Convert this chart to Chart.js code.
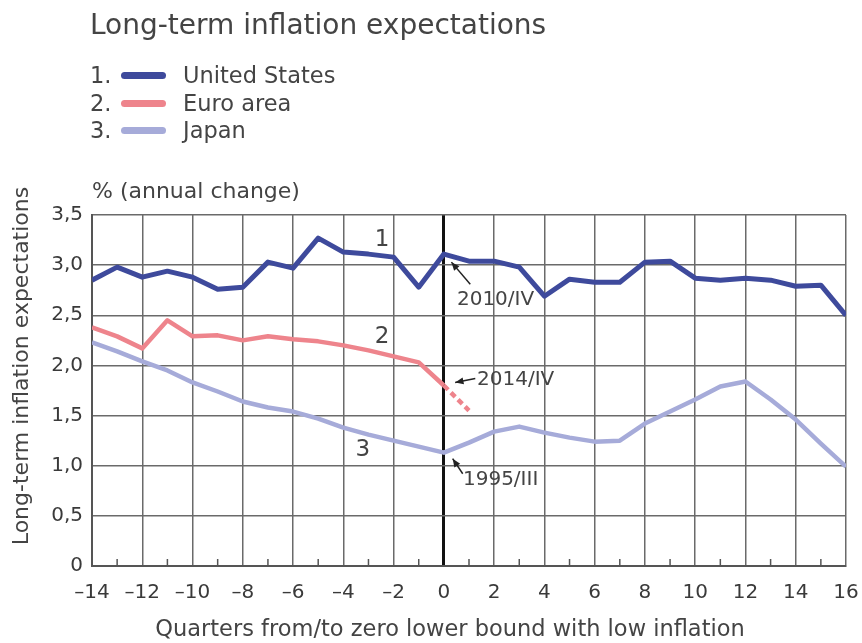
<!DOCTYPE html>
<html>
<head>
<meta charset="utf-8">
<script src="https://cdn.jsdelivr.net/npm/chart.js@4"></script>
<style>
  html, body { margin: 0; padding: 0; background: #fff; }
  body { width: 862px; height: 643px; position: relative; overflow: hidden; font-family: 'DejaVu Sans', sans-serif; color: #444; }
  #wrap { position: absolute; left: 0; top: 0; width: 862px; height: 643px; }
  .title { position: absolute; left: 90px; top: 7px; font-size: 28px; line-height: 36px; color: #444; white-space: nowrap; }
  .leg { position: absolute; left: 90px; font-size: 22.5px; color: #444; white-space: nowrap; height: 28px; line-height: 28px; }
  .leg .num { display: inline-block; width: 31px; }
  .leg .swatch { display: inline-block; width: 45px; height: 7px; border-radius: 4px; vertical-align: middle; margin-right: 17px; position: relative; top: -1px; }
</style>
</head>
<body>
<div id="wrap"><canvas id="chart" width="862" height="643"></canvas></div>
<div class="title">Long-term inflation expectations</div>
<div class="leg" style="top:61px"><span class="num">1.</span><span class="swatch" style="background:#3e4a9c"></span>United States</div>
<div class="leg" style="top:89px"><span class="num">2.</span><span class="swatch" style="background:#ee848c"></span>Euro area</div>
<div class="leg" style="top:116px"><span class="num">3.</span><span class="swatch" style="background:#a6abd9"></span>Japan</div>
<script>
// quarters from/to zero lower bound
const quarters = [-14, -13, -12, -11, -10, -9, -8, -7, -6, -5, -4, -3, -2, -1, 0, 1, 2, 3, 4, 5, 6, 7, 8, 9, 10, 11, 12, 13, 14, 15, 16];
const unitedStates = [2.85, 2.98, 2.88, 2.94, 2.88, 2.76, 2.78, 3.03, 2.97, 3.27, 3.13, 3.11, 3.08, 2.78, 3.11, 3.04, 3.04, 2.98, 2.69, 2.86, 2.83, 2.83, 3.03, 3.04, 2.87, 2.85, 2.87, 2.85, 2.79, 2.80, 2.50];
const euroArea = [2.38, 2.29, 2.17, 2.45, 2.29, 2.30, 2.25, 2.29, 2.26, 2.24, 2.20, 2.15, 2.09, 2.03, 1.80, 1.55];
const japan = [2.23, 2.14, 2.04, 1.95, 1.83, 1.74, 1.64, 1.58, 1.54, 1.47, 1.38, 1.31, 1.25, 1.19, 1.13, 1.23, 1.34, 1.39, 1.33, 1.28, 1.24, 1.25, 1.42, 1.54, 1.66, 1.79, 1.84, 1.66, 1.46, 1.22, 0.99];
const yTicks = [0, 0.5, 1, 1.5, 2, 2.5, 3, 3.5];

const FONT = "'DejaVu Sans', sans-serif";
const TEXT = '#444';

function toPoints(vals) {
  return vals.map((v, i) => ({ x: quarters[i], y: v }));
}

// ─── Extras: minor ticks, axis titles, labels, arrows ─────
const extras = {
  id: 'extras',
  afterDatasetsDraw(chart) {
    const { ctx, chartArea, scales: { x, y } } = chart;
    ctx.save();
    // minor ticks on odd quarters
    ctx.strokeStyle = '#555';
    ctx.lineWidth = 1.5;
    quarters.forEach(q => {
      if (q % 2 === 0) return;
      const px = x.getPixelForValue(q);
      ctx.beginPath();
      ctx.moveTo(px, chartArea.bottom);
      ctx.lineTo(px, chartArea.bottom - 7);
      ctx.stroke();
    });

    ctx.fillStyle = TEXT;
    ctx.textBaseline = 'middle';
    ctx.font = '22px ' + FONT;
    ctx.textAlign = 'left';
    ctx.fillText('% (annual change)', chartArea.left, chartArea.top - 23);

    // axis titles
    ctx.textAlign = 'center';
    ctx.font = '22.5px ' + FONT;
    ctx.fillText('Quarters from/to zero lower bound with low inflation', 450, 630);
    ctx.save();
    ctx.translate(22, 366);
    ctx.rotate(-Math.PI / 2);
    ctx.font = '22px ' + FONT;
    ctx.fillText('Long-term inflation expectations', 0, 0);
    ctx.restore();

    ctx.font = '23px ' + FONT;
    ctx.fillText('1', x.getPixelForValue(-2.46), y.getPixelForValue(3.25));
    ctx.fillText('2', x.getPixelForValue(-2.46), y.getPixelForValue(2.28));
    ctx.fillText('3', x.getPixelForValue(-3.22), y.getPixelForValue(1.155));

    ctx.font = '20px ' + FONT;
    ctx.textAlign = 'left';
    ctx.fillText('2010/IV', x.getPixelForValue(0.52), y.getPixelForValue(2.65));
    ctx.fillText('2014/IV', x.getPixelForValue(1.32), y.getPixelForValue(1.855));
    ctx.fillText('1995/III', x.getPixelForValue(0.76), y.getPixelForValue(0.857));

    const arrow = (x0, y0, x1, y1) => {
      const a = x.getPixelForValue(x0), b = y.getPixelForValue(y0);
      const c = x.getPixelForValue(x1), d = y.getPixelForValue(y1);
      const ang = Math.atan2(d - b, c - a);
      ctx.strokeStyle = '#222';
      ctx.fillStyle = '#222';
      ctx.lineWidth = 1.5;
      ctx.beginPath();
      ctx.moveTo(a, b);
      ctx.lineTo(c, d);
      ctx.stroke();
      ctx.beginPath();
      ctx.moveTo(c, d);
      ctx.lineTo(c - 9 * Math.cos(ang - 0.4), d - 9 * Math.sin(ang - 0.4));
      ctx.lineTo(c - 9 * Math.cos(ang + 0.4), d - 9 * Math.sin(ang + 0.4));
      ctx.closePath();
      ctx.fill();
    };
    arrow(1.05, 2.81, 0.3, 3.03);
    arrow(1.25, 1.87, 0.45, 1.83);
    arrow(0.75, 0.92, 0.35, 1.07);
    ctx.restore();
  }
};

new Chart(document.getElementById('chart'), {
  type: 'line',
  data: {
    datasets: [
      {
        label: 'United States',
        data: toPoints(unitedStates),
        borderColor: '#3e4a9c',
        borderWidth: 5,
        pointRadius: 0,
        tension: 0,
        borderJoinStyle: 'round',
        order: 1,
      },
      {
        label: 'Euro area',
        data: toPoints(euroArea),
        borderColor: '#ee848c',
        borderWidth: 4.5,
        pointRadius: 0,
        tension: 0,
        borderJoinStyle: 'round',
        segment: { borderDash: c => c.p0DataIndex >= 14 ? [6, 4] : undefined },
        order: 2,
      },
      {
        label: 'Japan',
        data: toPoints(japan),
        borderColor: '#a6abd9',
        borderWidth: 4.5,
        pointRadius: 0,
        tension: 0,
        borderJoinStyle: 'round',
        order: 3,
      },
    ]
  },
  options: {
    responsive: false,
    animation: false,
    layout: { padding: { left: 0, top: 215, right: 16, bottom: 0 } },
    plugins: { legend: { display: false }, tooltip: { enabled: false } },
    scales: {
      x: {
        type: 'linear',
        min: -14,
        max: 16,
        afterBuildTicks: s => { s.ticks = quarters.map(q => ({ value: q })); },
        afterFit: s => { s.height = 77; },
        ticks: {
          autoSkip: false,
          maxRotation: 0,
          color: '#3a3a3a',
          font: { family: FONT, size: 20, lineHeight: 2.4 },
          padding: 3,
          callback: v => v % 2 === 0 ? String(v).replace('-', '\u2013') : '',
        },
        grid: {
          drawTicks: false,
          color: c => c.tick.value === 0 ? '#111' : (c.tick.value % 2 === 0 ? '#6a6a6a' : 'rgba(0,0,0,0)'),
          lineWidth: c => c.tick.value === 0 ? 3 : 1.5,
        },
        border: { color: '#555', width: 2 },
      },
      y: {
        min: 0,
        max: 3.5,
        afterBuildTicks: s => { s.ticks = yTicks.map(v => ({ value: v })); },
        afterFit: s => { s.width = 92; },
        ticks: {
          color: '#3a3a3a',
          font: { family: FONT, size: 20 },
          padding: 9,
          callback: v => v === 0 ? '0' : v.toFixed(1).replace('.', ','),
        },
        grid: { drawTicks: false, color: '#6a6a6a', lineWidth: 1.5 },
        border: { color: '#555', width: 2 },
      },
    },
  },
  plugins: [extras],
});
</script>
</body>
</html>
